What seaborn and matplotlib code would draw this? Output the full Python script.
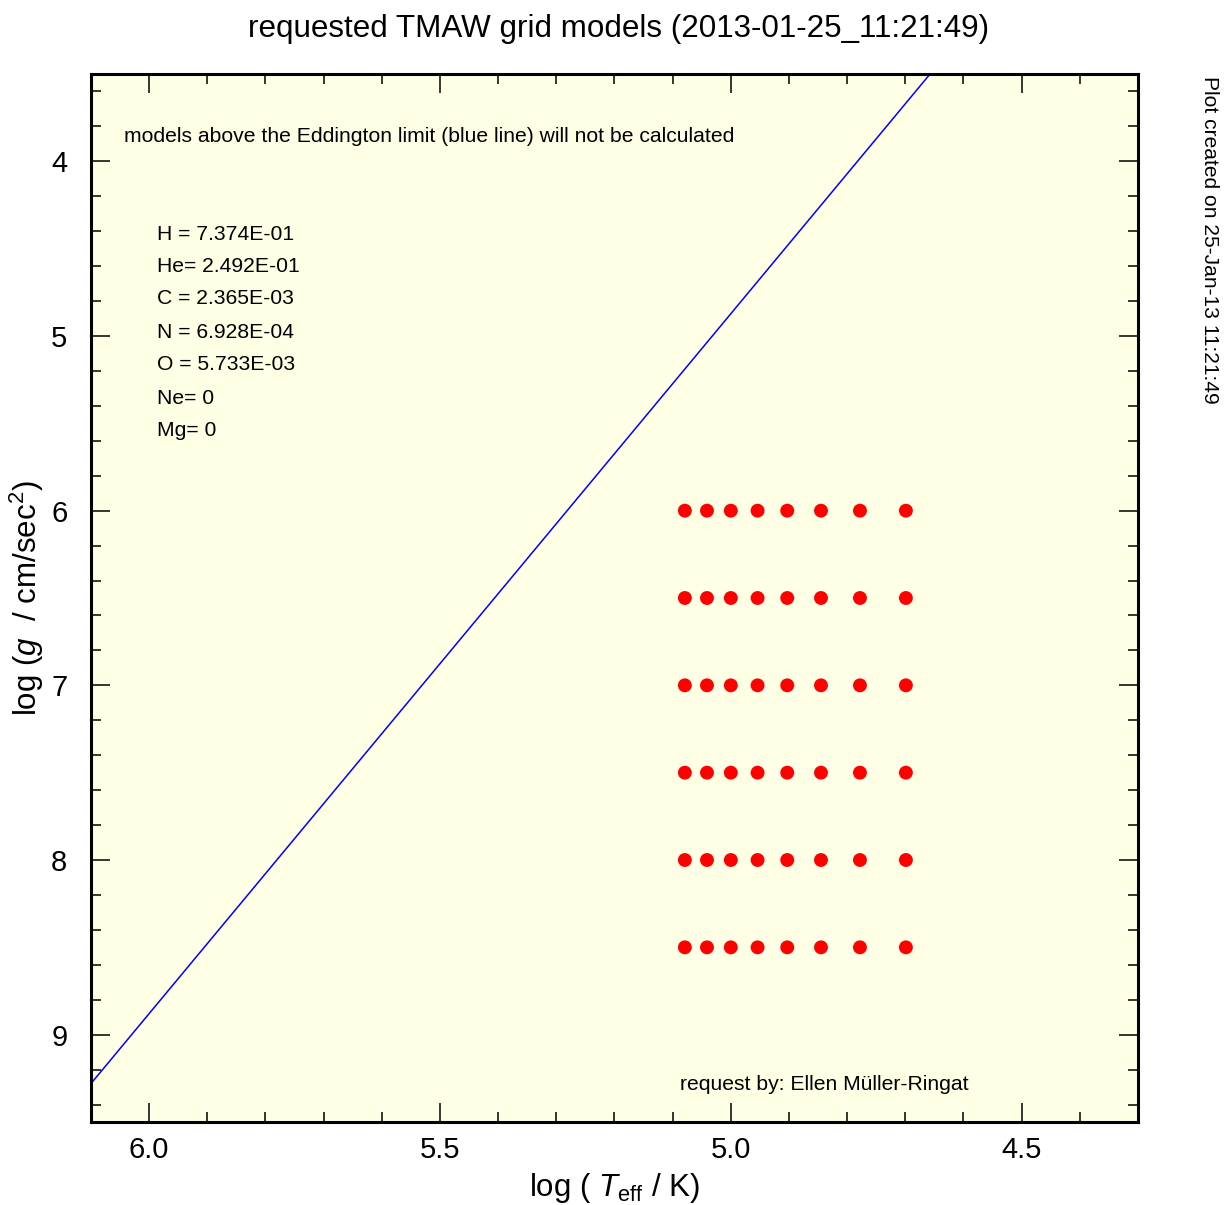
import matplotlib
matplotlib.use("Agg")
import matplotlib.pyplot as plt
import seaborn as sns
import pandas as pd
from matplotlib.ticker import MultipleLocator

# ---- data ----
grid_logT = [5.079, 5.041, 5.000, 4.954, 4.903, 4.845, 4.778, 4.699]
grid_logg = [6.0, 6.5, 7.0, 7.5, 8.0, 8.5]
eddington_logT = [6.12, 4.64]
eddington_logg = [9.36, 3.43]
abundance_labels = ["H = 7.374E-01", "He= 2.492E-01", "C = 2.365E-03",
                    "N = 6.928E-04", "O = 5.733E-03", "Ne= 0", "Mg= 0"]
x_ticks = [6.0, 5.5, 5.0, 4.5]
y_ticks = [4, 5, 6, 7, 8, 9]

sns.set_theme(style="ticks")
plt.rcParams['font.family'] = ['Liberation Sans', 'DejaVu Sans']
plt.rcParams['mathtext.fontset'] = 'custom'
plt.rcParams['mathtext.rm'] = 'Liberation Sans'
plt.rcParams['mathtext.it'] = 'Liberation Sans:italic'
plt.rcParams['text.color'] = 'black'
plt.rcParams['axes.labelcolor'] = 'black'
plt.rcParams['xtick.color'] = 'black'
plt.rcParams['ytick.color'] = 'black'

grid = pd.DataFrame([(t, g) for g in grid_logg for t in grid_logT],
                    columns=["logT", "logg"])
edd = pd.DataFrame({"logT": eddington_logT, "logg": eddington_logg})

fig = plt.figure(figsize=(12.32, 12.05), dpi=100)
ax = fig.add_axes([91/1232, 1 - 1122/1205, (1138-91)/1232, (1122-74)/1205])
ax.set_facecolor('#FFFFE6')

sns.lineplot(data=edd, x="logT", y="logg", ax=ax, color='#0000FF', linewidth=1.1,
             sort=False, estimator=None)
sns.scatterplot(data=grid, x="logT", y="logg", ax=ax, color='#FF0000', s=100,
                edgecolor='none', zorder=3)

ax.set_xlim(6.1, 4.3)
ax.set_ylim(9.5, 3.5)
ax.set_xticks(x_ticks)
ax.set_xticklabels([f"{v:.1f}" for v in x_ticks])
ax.set_yticks(y_ticks)
ax.set_yticklabels([str(v) for v in y_ticks])
ax.xaxis.set_minor_locator(MultipleLocator(0.1))
ax.yaxis.set_minor_locator(MultipleLocator(0.2))
ax.tick_params(which='both', direction='in', top=True, right=True, width=1.1,
               color='black', labelsize=21, labelcolor='black')
ax.tick_params(which='major', length=14)
ax.tick_params(which='minor', length=7)
ax.tick_params(axis='x', which='major', pad=10)
ax.tick_params(axis='y', which='major', pad=17)
for sp in ax.spines.values():
    sp.set_linewidth(2.2)
    sp.set_color('black')

ax.set_xlabel(r"log ( $T_{\rm eff}$ / K)", fontsize=22.5, labelpad=5)
ax.set_ylabel(r"log ($g$  / cm/sec$^2$)", fontsize=22.5, labelpad=4)

ax.text((124-91)/1047, (1122-134)/1048, "models above the Eddington limit (blue line) will not be calculated",
        transform=ax.transAxes, fontsize=15.2, va='center_baseline', ha='left')
ys = [232, 265, 297, 330, 363, 396, 428]
for lab, yy in zip(abundance_labels, ys):
    ax.text((157-91)/1047, (1122-yy)/1048, lab, transform=ax.transAxes,
            fontsize=15.2, va='center_baseline', ha='left')
ax.text((680-91)/1047, (1122-1083)/1048, "request by: Ellen Müller-Ringat",
        transform=ax.transAxes, fontsize=15.2, va='center_baseline', ha='left')

fig.text(619/1232, 1 - 26/1205, "requested TMAW grid models (2013-01-25_11:21:49)",
         fontsize=22.6, ha='center', va='center_baseline')
fig.text(1210/1232, 1 - 76/1205, "Plot created on 25-Jan-13 11:21:49",
         fontsize=15.1, rotation=-90, ha='center', va='top')

fig.savefig("out.png", dpi=100, facecolor='white')
